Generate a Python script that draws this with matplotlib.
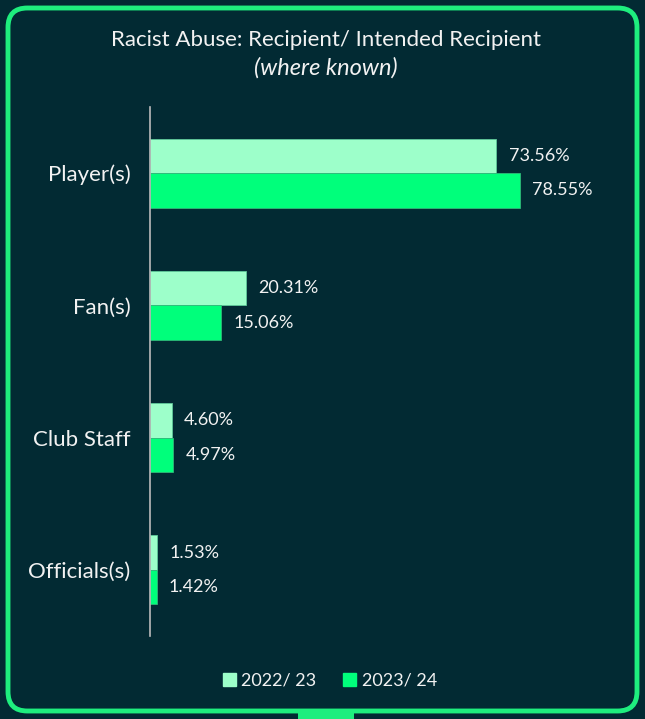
import matplotlib.pyplot as plt
from matplotlib.patches import FancyBboxPatch, Rectangle
import numpy as np

# Data
categories = ["Player(s)", "Fan(s)", "Club Staff", "Officials(s)"]
season_labels = ["2022/ 23", "2023/ 24"]
values_2223 = [73.56, 20.31, 4.60, 1.53]
values_2324 = [78.55, 15.06, 4.97, 1.42]

bg = "#022a33"
border = "#1eee7e"
light = "#9dffca"
bright = "#00ff7b"
txt = "#f2f2f2"

plt.rcParams['font.family'] = ['Lato', 'DejaVu Sans']

fig = plt.figure(figsize=(6.45, 7.19), dpi=100, facecolor=bg)
W, H = 645, 719

# rounded frame, kept behind the axes
frame = FancyBboxPatch((8 / W, 8 / H), (W - 16) / W, (H - 16) / H,
                       boxstyle="round,pad=0,rounding_size=0.03",
                       transform=fig.transFigure, facecolor='none',
                       edgecolor=border, linewidth=3.5, mutation_aspect=W / H, zorder=-5)
fig.patches.append(frame)
fig.patches.append(Rectangle((298 / W, 0), 56 / W, 7 / H, transform=fig.transFigure,
                             facecolor=border, edgecolor='none', zorder=-5))

ax = fig.add_axes([150 / W, 1 - 636 / H, 471 / W, 529 / H])
ax.set_facecolor('none')
ax.set_zorder(2)

y = np.arange(len(categories))
h = 0.26
ax.barh(y - h / 2, values_2223, height=h, color=light, edgecolor="#5fc99a", linewidth=0.6)
ax.barh(y + h / 2, values_2324, height=h, color=bright, edgecolor="#2fb879", linewidth=0.6)

for i in range(len(categories)):
    ax.text(values_2223[i] + 2.6, y[i] - h / 2, f"{values_2223[i]:.2f}%", va='center',
            ha='left', color=txt, fontsize=13)
    ax.text(values_2324[i] + 2.6, y[i] + h / 2, f"{values_2324[i]:.2f}%", va='center',
            ha='left', color=txt, fontsize=13)

ax.set_xlim(0, 100)
ax.set_ylim(3.5, -0.5)
ax.set_yticks(y)
ax.set_yticklabels(categories, color=txt, fontsize=16)
ax.tick_params(axis='y', length=0, pad=14)
ax.set_xticks([])
for s in ['top', 'right', 'bottom']:
    ax.spines[s].set_visible(False)
ax.spines['left'].set_color('#bbbbbb')
ax.spines['left'].set_linewidth(1.2)

fig.text(326 / W, 1 - 40 / H, "Racist Abuse: Recipient/ Intended Recipient",
         ha='center', va='center', color=txt, fontsize=16)
fig.text(326 / W, 1 - 68 / H, "(where known)", ha='center', va='center',
         color=txt, fontsize=17, style='italic')

# legend
handles = [Rectangle((0, 0), 1, 1, color=light), Rectangle((0, 0), 1, 1, color=bright)]
fig.legend(handles, season_labels, loc='center', bbox_to_anchor=(330 / W, 1 - 681 / H),
           ncol=2, frameon=False, fontsize=13, labelcolor=txt, handlelength=0.7,
           handleheight=0.7, handletextpad=0.3, columnspacing=1.5)

fig.savefig("out.png", dpi=100, facecolor=bg)
